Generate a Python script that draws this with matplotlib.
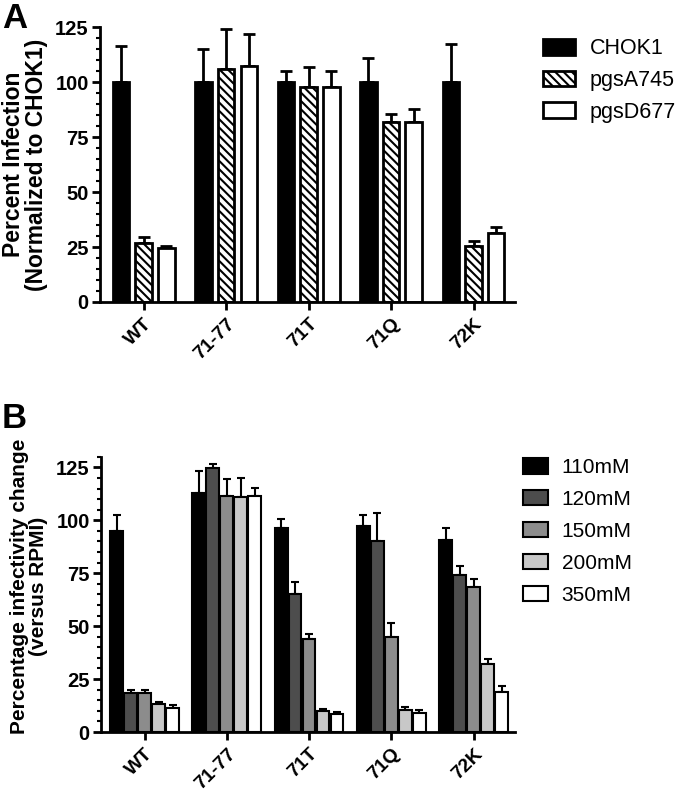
import numpy as np
import matplotlib
matplotlib.use("Agg")
import matplotlib.pyplot as plt
from matplotlib.ticker import MultipleLocator

plt.rcParams['font.family'] = ['Liberation Sans', 'DejaVu Sans']
plt.rcParams['hatch.linewidth'] = 1.5

groups = ["WT", "71-77", "71T", "71Q", "72K"]

# panel A
a_series = ["CHOK1", "pgsA745", "pgsD677"]
a_chok1 = [100, 100, 100, 100, 100]
a_chok1_err = [16.5, 15, 5, 11, 17.5]
a_pgsa = [26.7, 106, 97.6, 81.7, 25.6]
a_pgsa_err = [2.8, 18, 9.5, 3.8, 2.3]
a_pgsd = [24.4, 107.4, 97.6, 81.7, 31.2]
a_pgsd_err = [1.1, 14.4, 7.5, 5.9, 3.0]

# panel B
b_series = ["110mM", "120mM", "150mM", "200mM", "350mM"]
b_110 = [95, 112.9, 96.4, 97.3, 90.9]
b_110_err = [7.7, 10.2, 4.2, 5.0, 5.5]
b_120 = [18.2, 124.7, 65, 90.1, 74.2]
b_120_err = [1.6, 1.7, 5.7, 13.5, 4.2]
b_150 = [18.2, 111.5, 43.7, 44.8, 68.4]
b_150_err = [1.6, 7.8, 2.5, 6.8, 3.8]
b_200 = [13.1, 111, 10, 10.4, 31.9]
b_200_err = [1.2, 8.9, 1.1, 1.5, 2.7]
b_350 = [11.5, 111.3, 8.5, 9.1, 19]
b_350_err = [1.2, 4.1, 1.0, 1.5, 2.7]

fig = plt.figure(figsize=(6.8, 8), dpi=100)
axA = fig.add_axes([0.147, 0.6225, 0.61, 0.3435])
axB = fig.add_axes([0.1485, 0.085, 0.6085, 0.344])

x = np.arange(len(groups))


def style_axis(ax, top):
    ax.spines['top'].set_visible(False)
    ax.spines['right'].set_visible(False)
    ax.spines['left'].set_linewidth(2)
    ax.spines['bottom'].set_linewidth(2)
    ax.set_ylim(0, top)
    ax.set_yticks([0, 25, 50, 75, 100, 125])
    ax.yaxis.set_minor_locator(MultipleLocator(5))
    ax.tick_params(axis='y', which='major', length=6, width=2, labelsize=14.5, pad=2)
    ax.tick_params(axis='y', which='minor', length=3, width=1.5)
    ax.tick_params(axis='x', which='major', length=6, width=2)
    ax.set_xticks(x)
    ax.set_xticklabels(groups, rotation=45, ha='right', rotation_mode='anchor',
                       fontweight='bold', fontsize=14)
    for lab in ax.get_yticklabels():
        lab.set_fontweight('bold')
    ax.set_xlim(-0.53, 4.5)


# panel A bars
wA = 0.2
stepA = 0.275
a_vals = [a_chok1, a_pgsa, a_pgsd]
a_errs = [a_chok1_err, a_pgsa_err, a_pgsd_err]
a_face = ['black', 'white', 'white']
a_hatch = [None, '\\\\\\\\', None]
for i in range(3):
    pos = x + (i - 1) * stepA
    axA.bar(pos, a_vals[i], wA, color=a_face[i], edgecolor='black', linewidth=2,
            hatch=a_hatch[i], label=a_series[i], zorder=2)
    axA.errorbar(pos, a_vals[i], yerr=[np.zeros(5), a_errs[i]], fmt='none',
                 ecolor='black', elinewidth=2, capsize=4, capthick=2, zorder=1)
style_axis(axA, 125)
axA.set_ylabel("Percent Infection\n(Normalized to CHOK1)", fontsize=16.5,
               fontweight='bold', labelpad=5, linespacing=1.0)
axA.legend(loc='upper left', bbox_to_anchor=(1.067, 0.96), frameon=False,
           fontsize=15.5, handlelength=1.5, handleheight=0.75,
           labelspacing=0.5, handletextpad=0.7, borderaxespad=0, borderpad=0)

# panel B bars
wB = 0.155
stepB = 0.17
b_vals = [b_110, b_120, b_150, b_200, b_350]
b_errs = [b_110_err, b_120_err, b_150_err, b_200_err, b_350_err]
b_face = ['black', '#4d4d4d', '#8c8c8c', '#c8c8c8', 'white']
for i in range(5):
    pos = x + (i - 2) * stepB
    axB.bar(pos, b_vals[i], wB, color=b_face[i], edgecolor='black', linewidth=1.5,
            label=b_series[i], zorder=2)
    axB.errorbar(pos, b_vals[i], yerr=[np.zeros(5), b_errs[i]], fmt='none',
                 ecolor='black', elinewidth=1.5, capsize=3, capthick=1.5, zorder=1)
style_axis(axB, 130)
axB.set_ylabel("Percentage infectivity change\n(versus RPMI)", fontsize=15,
               fontweight='bold', labelpad=6, linespacing=1.0, y=0.53)
axB.legend(loc='upper left', bbox_to_anchor=(1.02, 0.995), frameon=False,
           fontsize=15, handlelength=1.2, handleheight=0.75,
           labelspacing=0.62, handletextpad=0.65, borderaxespad=0, borderpad=0)

fig.text(0.003, 0.998, "A", fontsize=25, fontweight='bold', va='top', ha='left')
fig.text(0.003, 0.498, "B", fontsize=25, fontweight='bold', va='top', ha='left')

fig.savefig("out.png", dpi=100)
plt.close()
